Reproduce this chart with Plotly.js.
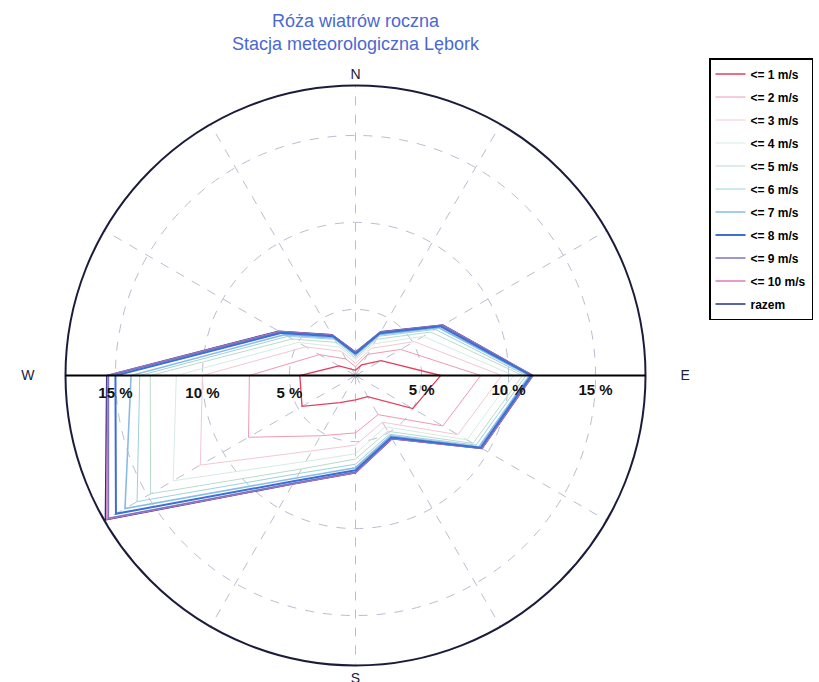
<!DOCTYPE html>
<html>
<head>
<meta charset="utf-8">
<script src="https://cdn.plot.ly/plotly-3.0.1.min.js"></script>
<style>html,body{margin:0;padding:0;background:#fff;}#chart{width:819px;height:682px;}</style>
</head>
<body>
<div id="chart"></div>
<script>
// wind directions (degrees, clockwise from north)
const directions = [0, 30, 60, 90, 120, 150, 180, 210, 240, 270, 300, 330];
const NB = "\u00a0";
const cardinalLabels = ["N", "", "", NB.repeat(8) + "E", "", "", "S", "", "", "W" + NB.repeat(7), "", ""];
const seriesNames = ["<= 1 m/s", "<= 2 m/s", "<= 3 m/s", "<= 4 m/s", "<= 5 m/s", "<= 6 m/s",
                     "<= 7 m/s", "<= 8 m/s", "<= 9 m/s", "<= 10 m/s", "razem"];
// cumulative frequency (%) per direction
const le1  = [1.5, 1.9, 2.9, 6.1, 5.0, 2.6, 2.6, 3.0, 4.75, 4.4, 2.3, 1.6];
const le2  = [1.7, 2.6, 4.2, 8.4, 7.0, 3.8, 4.5, 5.2, 8.3, 7.3, 3.6, 2.3];
const le3  = [1.9, 3.0, 5.1, 9.6, 8.0, 4.3, 5.2, 6.2, 11.5, 10.0, 4.5, 2.8];
const le4  = [2.1, 3.3, 5.7, 10.3, 8.6, 4.6, 5.7, 6.9, 13.3, 11.5, 5.0, 3.1];
const le5  = [2.2, 3.6, 6.2, 10.8, 9.0, 4.9, 6.0, 7.4, 14.8, 13.0, 5.4, 3.4];
const le6  = [2.3, 3.8, 6.5, 11.0, 9.2, 5.1, 6.3, 7.7, 15.7, 13.6, 5.7, 3.6];
const le7  = [2.4, 3.9, 6.7, 11.2, 9.4, 5.2, 6.5, 8.0, 16.5, 14.1, 5.9, 3.7];
const le8  = [2.45, 4.0, 6.85, 11.3, 9.5, 5.3, 6.65, 8.2, 17.1, 15.0, 6.1, 3.8];
const le9  = [2.5, 4.05, 6.95, 11.35, 9.55, 5.35, 6.75, 8.35, 17.6, 15.4, 6.2, 3.85];
const le10 = [2.52, 4.08, 6.98, 11.38, 9.58, 5.38, 6.78, 8.38, 17.7, 15.45, 6.25, 3.88];
const razem= [2.55, 4.1, 7.0, 11.4, 9.6, 5.4, 6.8, 8.4, 17.8, 15.5, 6.3, 3.9];
const seriesValues = [le1, le2, le3, le4, le5, le6, le7, le8, le9, le10, razem];
const radialTicks = [5, 10, 15];
const radialTickText = ["5 %", "10 %", "15 %"];

const colors = ["#e2405e", "#f09aae", "#f4c8d2", "#d6ebe2", "#b9dcc9", "#9fd0dc",
                "#86bce6", "#3c6fd4", "#7b74c0", "#e07ab8", "#26308e"];
const widths = [1.3, 1, 1, 1, 1, 1, 1.6, 2, 1.5, 1.5, 1.5];
// drawing order (outer lines: ≤8 on top), legend keeps the natural order
const drawOrder = [0, 1, 2, 3, 4, 5, 6, 10, 9, 8, 7];

const traces = drawOrder.map(i => ({
  type: "scatterpolar",
  mode: "lines",
  r: seriesValues[i].concat([seriesValues[i][0]]),
  theta: directions.concat([directions[0]]),
  name: seriesNames[i],
  legendgroup: "g" + i,
  legendrank: 100 + i,
  line: {color: colors[i], width: widths[i]},
  subplot: "polar",
  hoverinfo: "name+r+theta"
}));
traces.push({type: "scatterpolar", mode: "lines", r: [null], theta: [0],
             subplot: "polar2", showlegend: false, hoverinfo: "skip"});

const radialRange = [1.2, 17.87];
const gridColor = "#b9bdd0";
const dom = {x: [65.5 / 819, 645.5 / 819], y: [1 - 665.5 / 682, 1 - 85.5 / 682]};
const FONT = "Arial, 'Liberation Sans', sans-serif";

const layout = {
  width: 819, height: 682,
  margin: {l: 0, r: 0, t: 0, b: 0},
  paper_bgcolor: "#fff",
  font: {family: FONT, color: "#111"},
  title: {
    text: "Róża wiatrów roczna<br>Stacja meteorologiczna Lębork",
    x: 355.5 / 819, xanchor: "center", y: 1 - 27 / 682, yanchor: "middle",
    font: {family: FONT, size: 18, color: "#4a68d4"}
  },
  showlegend: true,
  legend: {
    x: 709 / 819, xanchor: "left", y: 1 - 58 / 682, yanchor: "top",
    bgcolor: "#fff", bordercolor: "#000", borderwidth: 1.5,
    traceorder: "grouped", tracegroupgap: 4,
    font: {family: FONT, size: 12, color: "#000", weight: "bold"}
  },
  polar: {
    domain: dom,
    bgcolor: "#fff",
    angularaxis: {
      direction: "clockwise", rotation: 90,
      tickmode: "array", tickvals: directions, ticktext: cardinalLabels,
      ticks: "", tickcolor: "rgba(0,0,0,0)",
      tickfont: {size: 14, color: "#1d2040"},
      showline: true, linecolor: "#1a1c3c", linewidth: 2,
      showgrid: true, gridcolor: gridColor, griddash: "dash", gridwidth: 1
    },
    radialaxis: {
      range: radialRange, angle: 0,
      tickmode: "array", tickvals: radialTicks, ticktext: radialTickText,
      tickfont: {size: 15, color: "#111", weight: "bold"},
      showline: true, linecolor: "#000", linewidth: 2, ticks: "",
      showgrid: true, gridcolor: gridColor, griddash: "dash", gridwidth: 1
    }
  },
  polar2: {
    domain: dom,
    bgcolor: "rgba(0,0,0,0)",
    angularaxis: {visible: false, direction: "clockwise", rotation: 90},
    radialaxis: {
      range: radialRange, angle: 180, side: "counterclockwise", tickangle: 180,
      tickmode: "array", tickvals: radialTicks, ticktext: radialTickText,
      tickfont: {size: 15, color: "#111", weight: "bold"},
      showline: true, linecolor: "#000", linewidth: 2, ticks: "",
      showgrid: false
    }
  }
};

Plotly.newPlot("chart", traces, layout, {displayModeBar: false, staticPlot: true});
</script>
</body>
</html>
